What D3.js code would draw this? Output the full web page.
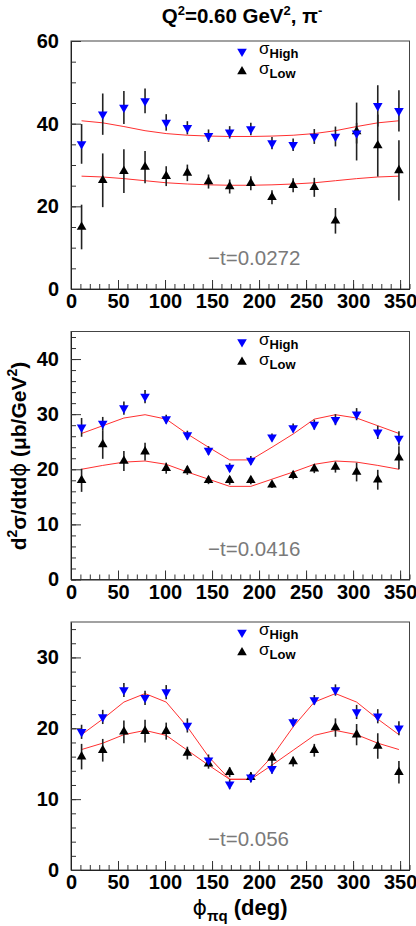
<!DOCTYPE html>
<html>
<head>
<meta charset="utf-8">
<script src="https://cdn.jsdelivr.net/npm/d3@7"></script>
<style>
  body { margin: 0; background: #fff; }
  svg { display: block; font-family: "Liberation Sans", Arial, Helvetica, sans-serif; }
</style>
</head>
<body>
<svg id="chart" width="416" height="926"></svg>
<script>
// phi bins (deg)
var phi = [11.25, 33.75, 56.25, 78.75, 101.25, 123.75, 146.25, 168.75,
           191.25, 213.75, 236.25, 258.75, 281.25, 303.75, 326.25, 348.75];

var tLabels = ["\u2212t=0.0272", "\u2212t=0.0416", "\u2212t=0.056"];
var yMax = [60, 45, 35];
var yMajor = [[0, 20, 40, 60], [0, 10, 20, 30, 40], [0, 10, 20, 30]];
var yMinor = [[0,5,10,15,20,25,30,35,40,45,50,55,60],
              [0,2,4,6,8,10,12,14,16,18,20,22,24,26,28,30,32,34,36,38,40,42,44],
              [0,2,4,6,8,10,12,14,16,18,20,22,24,26,28,30,32,34]];
var xMajor = [0, 50, 100, 150, 200, 250, 300, 350];
var xMinor = [0,10,20,30,40,50,60,70,80,90,100,110,120,130,140,150,160,170,180,
              190,200,210,220,230,240,250,260,270,280,290,300,310,320,330,340,350,360];

// -t = 0.0272
var high1 = [35.1, 42.3, 43.9, 45.5, 40.3, 39.0, 37.1, 37.9, 38.7, 35.3, 34.9, 36.9, 36.9, 37.7, 44.3, 43.1];
var highErr1 = [4.8, 5.0, 4.0, 3.0, 2.0, 1.6, 1.5, 1.5, 1.5, 1.5, 1.5, 1.8, 2.4, 2.5, 5.0, 5.0];
var low1 = [15.0, 26.3, 28.5, 29.5, 27.3, 28.1, 26.0, 24.8, 25.6, 22.2, 25.1, 24.6, 16.5, 38.1, 34.7, 28.7];
var lowErr1 = [5.4, 6.5, 5.3, 3.9, 2.4, 2.0, 1.7, 1.7, 1.7, 1.7, 1.7, 2.3, 3.1, 7.0, 7.5, 7.3];
var highFit1 = [40.7, 40.2, 39.3, 38.3, 37.6, 37.2, 37.0, 36.9, 36.9, 37.0, 37.2, 37.6, 38.3, 39.3, 40.2, 40.7];
var lowFit1 = [27.3, 27.1, 26.7, 26.2, 25.7, 25.4, 25.2, 25.1, 25.1, 25.2, 25.4, 25.7, 26.2, 26.7, 27.1, 27.3];

// -t = 0.0416
var high2 = [27.6, 28.3, 31.1, 33.2, 29.1, 26.2, 23.4, 20.3, 21.6, 25.8, 27.5, 28.1, 29.0, 30.0, 26.7, 25.6];
var highErr2 = [1.7, 1.2, 1.2, 1.2, 0.8, 0.8, 0.8, 0.8, 0.8, 0.7, 0.8, 0.9, 1.0, 1.1, 1.2, 1.3];
var low2 = [18.0, 24.5, 21.5, 23.2, 20.2, 19.8, 18.0, 18.0, 18.0, 17.2, 18.9, 20.1, 20.4, 19.5, 18.1, 22.1];
var lowErr2 = [2.1, 2.6, 1.8, 1.6, 1.0, 0.8, 0.7, 0.8, 0.7, 0.6, 0.7, 0.8, 1.0, 1.7, 1.8, 2.1];
var highFit2 = [26.5, 27.9, 29.3, 29.9, 29.1, 26.4, 24.0, 21.7, 21.7, 24.0, 26.4, 29.1, 29.9, 29.3, 27.9, 26.5];
var lowFit2 = [20.0, 20.7, 21.3, 21.5, 20.9, 19.5, 18.2, 16.9, 16.9, 18.2, 19.5, 20.9, 21.5, 21.3, 20.7, 20.0];

// -t = 0.056
var high3 = [19.5, 21.6, 25.4, 24.3, 25.1, 20.4, 15.5, 12.1, 13.1, 14.3, 20.9, 24.0, 25.4, 22.3, 21.7, 20.0];
var highErr3 = [1.0, 1.0, 1.0, 1.0, 1.0, 1.0, 0.8, 0.7, 0.7, 0.7, 0.6, 0.7, 0.8, 1.0, 1.0, 1.0];
var low3 = [16.0, 16.9, 19.5, 19.6, 19.6, 16.5, 15.0, 13.8, 13.1, 15.8, 15.3, 16.9, 20.1, 19.1, 17.5, 13.8];
var lowErr3 = [1.8, 1.6, 1.6, 1.6, 1.2, 0.9, 0.7, 0.7, 0.7, 0.8, 0.7, 0.9, 1.3, 1.5, 1.8, 1.6];
var highFit3 = [19.1, 21.3, 23.7, 24.9, 23.7, 20.2, 16.0, 12.8, 12.8, 16.0, 20.2, 23.7, 24.9, 23.7, 21.3, 19.1];
var lowFit3 = [17.0, 17.9, 19.1, 19.7, 19.0, 16.9, 14.8, 12.8, 12.8, 14.8, 16.9, 19.0, 19.7, 19.1, 17.9, 17.0];

var panels = [
  {high: high1, highErr: highErr1, low: low1, lowErr: lowErr1, highFit: highFit1, lowFit: lowFit1},
  {high: high2, highErr: highErr2, low: low2, lowErr: lowErr2, highFit: highFit2, lowFit: lowFit2},
  {high: high3, highErr: highErr3, low: low3, lowErr: lowErr3, highFit: highFit3, lowFit: lowFit3}
];

var svg = d3.select("#chart");
svg.append("rect").attr("width", 416).attr("height", 926).attr("fill", "#fff");

var left = 71, right = 409.5, ph = 248;
var tops = [41, 331.5, 622];

var x = d3.scaleLinear().domain([0, 360]).range([left, right]);

var triUp = d3.symbol().type(d3.symbolTriangle).size(40);

panels.forEach(function(p, k) {
  var top = tops[k];
  var y = d3.scaleLinear().domain([0, yMax[k]]).range([top + ph, top]);
  var g = svg.append("g");

  // frame
  g.append("rect")
    .attr("x", left).attr("y", top)
    .attr("width", right - left).attr("height", ph)
    .attr("fill", "none").attr("stroke", "#444").attr("stroke-width", 1);

  // x minor + major ticks
  g.append("g")
    .attr("transform", "translate(0," + (top + ph) + ")")
    .call(d3.axisBottom(x).tickValues(xMinor).tickSizeInner(-5).tickSizeOuter(0).tickFormat(""))
    .call(function(a) { a.select(".domain").remove(); a.selectAll("line").attr("stroke", "#333"); });
  var xa = g.append("g")
    .attr("transform", "translate(0," + (top + ph) + ")")
    .call(d3.axisBottom(x).tickValues(xMajor).tickSizeInner(-9).tickSizeOuter(0).tickPadding(5));
  xa.select(".domain").attr("stroke", "#222");
  xa.selectAll("line").attr("stroke", "#333");
  xa.selectAll("text").attr("font-size", 20).attr("font-weight", "bold").attr("fill", "#000")
    .attr("font-family", "'Liberation Sans', Arial, sans-serif");

  // y minor + major ticks
  g.append("g")
    .attr("transform", "translate(" + left + ",0)")
    .call(d3.axisLeft(y).tickValues(yMinor[k]).tickSizeInner(-5).tickSizeOuter(0).tickFormat(""))
    .call(function(a) { a.select(".domain").remove(); a.selectAll("line").attr("stroke", "#333"); });
  var ya = g.append("g")
    .attr("transform", "translate(" + left + ",0)")
    .call(d3.axisLeft(y).tickValues(yMajor[k]).tickSizeInner(-10).tickSizeOuter(0).tickPadding(12));
  ya.select(".domain").attr("stroke", "#222");
  ya.selectAll("line").attr("stroke", "#333");
  ya.selectAll("text").attr("font-size", 20).attr("font-weight", "bold").attr("fill", "#000")
    .attr("font-family", "'Liberation Sans', Arial, sans-serif");

  // fit curves
  var line = d3.line()
    .x(function(d, i) { return x(phi[i]); })
    .y(function(d) { return y(d); });
  g.append("path").datum(p.highFit).attr("d", line)
    .attr("fill", "none").attr("stroke", "#ff3030").attr("stroke-width", 1);
  g.append("path").datum(p.lowFit).attr("d", line)
    .attr("fill", "none").attr("stroke", "#ff3030").attr("stroke-width", 1);

  // error bars
  function bars(vals, errs) {
    g.selectAll(null).data(vals).enter().append("line")
      .attr("x1", function(d, i) { return x(phi[i]); })
      .attr("x2", function(d, i) { return x(phi[i]); })
      .attr("y1", function(d, i) { return y(d - errs[i]); })
      .attr("y2", function(d, i) { return y(d + errs[i]); })
      .attr("stroke", "#222").attr("stroke-width", 1.6);
  }
  bars(p.high, p.highErr);
  bars(p.low, p.lowErr);

  // markers
  g.selectAll(null).data(p.low).enter().append("path")
    .attr("d", triUp)
    .attr("transform", function(d, i) { return "translate(" + x(phi[i]) + "," + y(d) + ")"; })
    .attr("fill", "#000");
  g.selectAll(null).data(p.high).enter().append("path")
    .attr("d", triUp)
    .attr("transform", function(d, i) { return "translate(" + x(phi[i]) + "," + y(d) + ") rotate(180)"; })
    .attr("fill", "#0000ff");

  // legend
  var lg = g.append("g");
  lg.append("path").attr("d", triUp)
    .attr("transform", "translate(242," + (top + 10.5) + ") rotate(180)").attr("fill", "#0000ff");
  lg.append("path").attr("d", triUp)
    .attr("transform", "translate(242," + (top + 30.5) + ")").attr("fill", "#000");
  var t1 = lg.append("text").attr("x", 259).attr("y", top + 13);
  t1.append("tspan").attr("font-size", 17).text("\u03c3");
  t1.append("tspan").attr("font-size", 13).attr("font-weight", "bold").attr("dy", 4).text("High");
  var t2 = lg.append("text").attr("x", 259).attr("y", top + 33);
  t2.append("tspan").attr("font-size", 17).text("\u03c3");
  t2.append("tspan").attr("font-size", 13).attr("font-weight", "bold").attr("dy", 4).text("Low");

  // -t label
  g.append("text")
    .attr("x", 208).attr("y", top + ph - 24)
    .attr("font-size", 20.5).attr("fill", "#7a7a7a")
    .text(tLabels[k]);
});

// title
var title = svg.append("text")
  .attr("x", 242).attr("y", 23)
  .attr("text-anchor", "middle")
  .attr("font-size", 20.5).attr("font-weight", "bold");
title.append("tspan").text("Q");
title.append("tspan").attr("font-size", 13).attr("dy", -8).text("2");
title.append("tspan").attr("dy", 8).text("=0.60 GeV");
title.append("tspan").attr("font-size", 13).attr("dy", -8).text("2");
title.append("tspan").attr("dy", 8).text(", \u03c0");
title.append("tspan").attr("font-size", 13).attr("dy", -8).text("-");

// y axis title
var ylab = svg.append("text")
  .attr("transform", "translate(26,456) rotate(-90)")
  .attr("text-anchor", "middle")
  .attr("font-size", 21).attr("font-weight", "bold");
ylab.append("tspan").text("d");
ylab.append("tspan").attr("font-size", 14).attr("dy", -9).text("2");
ylab.append("tspan").attr("dy", 9).text("\u03c3/dtd");
ylab.append("tspan").attr("font-weight", "normal").attr("font-family", "'DejaVu Sans', sans-serif").text("\u03d5");
ylab.append("tspan").text(" (\u03bcb/GeV");
ylab.append("tspan").attr("font-size", 14).attr("dy", -9).text("2");
ylab.append("tspan").attr("dy", 9).text(")");

// x axis title
var xlab = svg.append("text")
  .attr("x", 240).attr("y", 915)
  .attr("text-anchor", "middle")
  .attr("font-size", 22).attr("font-weight", "bold");
xlab.append("tspan").attr("font-weight", "normal").attr("font-family", "'DejaVu Sans', sans-serif").text("\u03d5");
xlab.append("tspan").attr("font-size", 15).attr("dy", 6).text("\u03c0q");
xlab.append("tspan").attr("dy", -6).text(" (deg)");
</script>
</body>
</html>
